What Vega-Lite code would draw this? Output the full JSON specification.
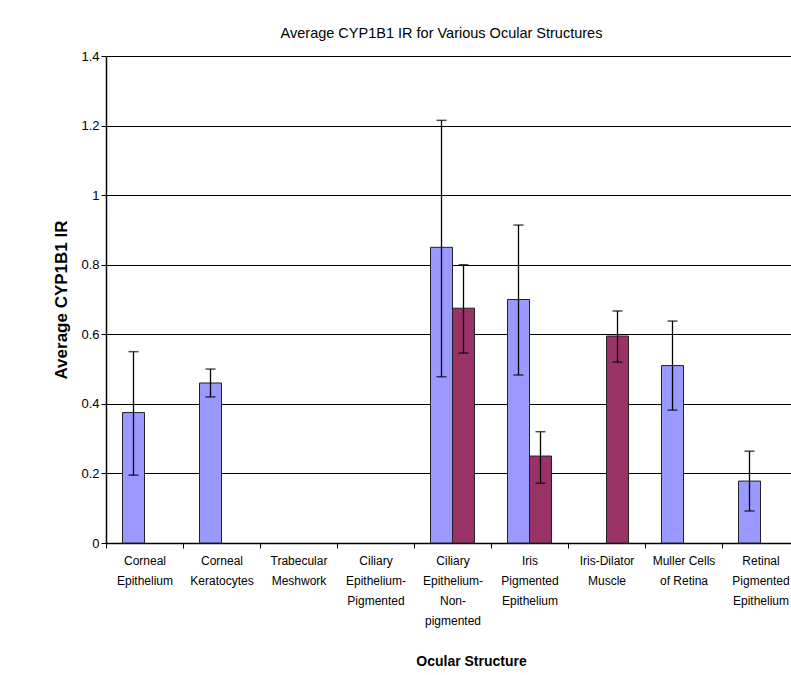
{
  "$schema": "https://vega.github.io/schema/vega-lite/v6.json",
  "autosize": "none",
  "width": 693,
  "height": 487,
  "padding": {"left": 106, "top": 56, "right": 0, "bottom": 132},
  "background": "white",
  "title": {"text": "Average CYP1B1 IR for Various Ocular Structures", "font": "Liberation Sans", "fontSize": 14.5, "fontWeight": "normal", "color": "#000", "offset": 9, "dx": -11},
  "config": {"view": {"stroke": null}},
  "data": {"values": [
    {"structure": "Corneal Epithelium", "series": "A", "value": 0.375, "lo": 0.195, "hi": 0.55},
    {"structure": "Corneal Keratocytes", "series": "A", "value": 0.46, "lo": 0.42, "hi": 0.50},
    {"structure": "Ciliary Epithelium-Non-pigmented", "series": "A", "value": 0.85, "lo": 0.478, "hi": 1.215},
    {"structure": "Ciliary Epithelium-Non-pigmented", "series": "B", "value": 0.675, "lo": 0.546, "hi": 0.80},
    {"structure": "Iris Pigmented Epithelium", "series": "A", "value": 0.70, "lo": 0.483, "hi": 0.914},
    {"structure": "Iris Pigmented Epithelium", "series": "B", "value": 0.25, "lo": 0.172, "hi": 0.32},
    {"structure": "Iris-Dilator Muscle", "series": "B", "value": 0.595, "lo": 0.52, "hi": 0.667},
    {"structure": "Muller Cells of Retina", "series": "A", "value": 0.51, "lo": 0.382, "hi": 0.638},
    {"structure": "Retinal Pigmented Epithelium", "series": "A", "value": 0.178, "lo": 0.092, "hi": 0.264}
  ]},
  "encoding": {
    "x": {
      "field": "structure", "type": "nominal",
      "scale": {"domain": ["Corneal Epithelium", "Corneal Keratocytes", "Trabecular Meshwork", "Ciliary Epithelium-Pigmented", "Ciliary Epithelium-Non-pigmented", "Iris Pigmented Epithelium", "Iris-Dilator Muscle", "Muller Cells of Retina", "Retinal Pigmented Epithelium"], "paddingInner": 0, "paddingOuter": 0},
      "axis": {
        "title": "Ocular Structure", "titleFont": "Liberation Sans", "titleFontSize": 14, "titleFontWeight": "bold", "titleColor": "#000",
        "titleX": 365, "titleY": 122, "titleBaseline": "alphabetic",
        "labelAngle": 0, "labelFont": "Liberation Sans", "labelFontSize": 12, "labelColor": "#000", "labelLineHeight": 20, "labelPadding": 7, "labelBaseline": "top",
        "labelExpr": "{'Corneal Epithelium': ['Corneal','Epithelium'], 'Corneal Keratocytes': ['Corneal','Keratocytes'], 'Trabecular Meshwork': ['Trabecular','Meshwork'], 'Ciliary Epithelium-Pigmented': ['Ciliary','Epithelium-','Pigmented'], 'Ciliary Epithelium-Non-pigmented': ['Ciliary','Epithelium-','Non-','pigmented'], 'Iris Pigmented Epithelium': ['Iris','Pigmented','Epithelium'], 'Iris-Dilator Muscle': ['Iris-Dilator','Muscle'], 'Muller Cells of Retina': ['Muller Cells','of Retina'], 'Retinal Pigmented Epithelium': ['Retinal','Pigmented','Epithelium']}[datum.value]",
        "tickBand": "extent", "tickColor": "#000", "tickSize": 5, "domainColor": "#000", "domainWidth": 1.5, "grid": false
      }
    },
    "xOffset": {"field": "series", "type": "nominal", "scale": {"domain": ["A", "B"], "paddingInner": 0, "paddingOuter": 0.75}}
  },
  "layer": [
    {
      "mark": {"type": "bar", "stroke": "#222", "strokeWidth": 1},
      "encoding": {
        "y": {"field": "value", "type": "quantitative", "scale": {"domain": [0, 1.4]},
          "axis": {"title": "Average CYP1B1 IR", "titleFont": "Liberation Sans", "titleFontSize": 17, "titleFontWeight": "bold", "titleColor": "#000", "titlePadding": 10,
            "values": [0, 0.2, 0.4, 0.6, 0.8, 1, 1.2, 1.4], "format": "~g", "labelFont": "Liberation Sans", "labelFontSize": 13, "labelColor": "#000",
            "grid": true, "gridColor": "#000", "gridWidth": 1.2, "tickColor": "#000", "tickSize": 5, "domainColor": "#000", "domainWidth": 1.5}},
        "color": {"field": "series", "type": "nominal", "scale": {"domain": ["A", "B"], "range": ["#9999ff", "#993366"]}, "legend": null}
      }
    },
    {
      "mark": {"type": "rule", "color": "#000", "strokeWidth": 1.3},
      "encoding": {"y": {"field": "lo", "type": "quantitative"}, "y2": {"field": "hi"}}
    },
    {
      "mark": {"type": "tick", "color": "#000", "orient": "horizontal", "size": 10, "thickness": 1.5},
      "encoding": {"y": {"field": "lo", "type": "quantitative"}}
    },
    {
      "mark": {"type": "tick", "color": "#000", "orient": "horizontal", "size": 10, "thickness": 1.5},
      "encoding": {"y": {"field": "hi", "type": "quantitative"}}
    }
  ]
}
